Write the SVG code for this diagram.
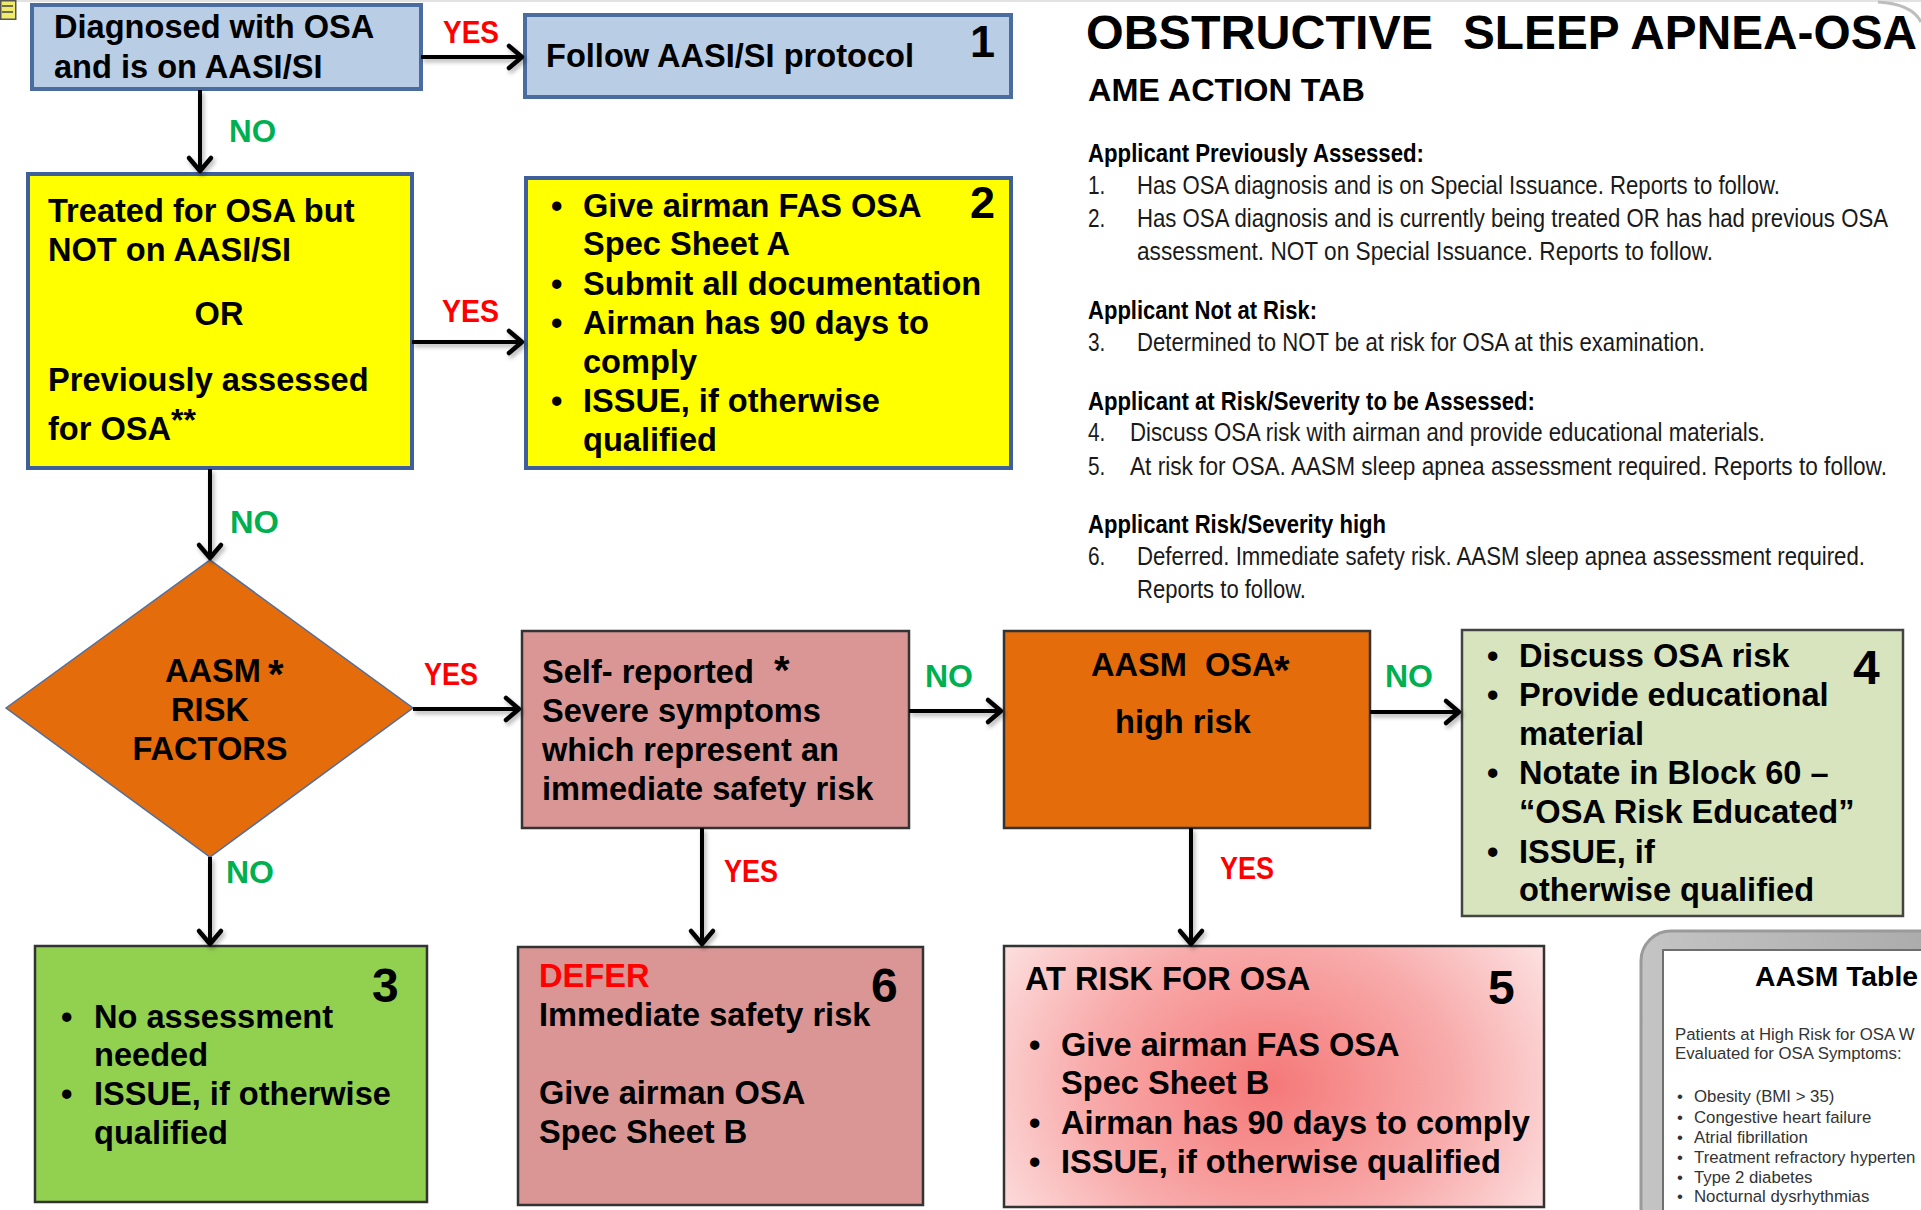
<svg xmlns="http://www.w3.org/2000/svg" width="1921" height="1210" viewBox="0 0 1921 1210">
<style>
.t{font-family:"Liberation Sans",Arial,sans-serif;font-weight:bold;font-size:32.6px;fill:#000}
.num{font-family:"Liberation Sans",Arial,sans-serif;font-weight:bold;font-size:48px;fill:#000}
.yes{font-family:"Liberation Sans Narrow","Liberation Sans",Arial,sans-serif;font-weight:bold;font-size:32px;fill:#ff0000}
.no{font-family:"Liberation Sans Narrow","Liberation Sans",Arial,sans-serif;font-weight:bold;font-size:32px;fill:#00b050}
.rt{font-family:"Liberation Sans",Arial,sans-serif;font-size:26px;fill:#1a1a1a}
.rb{font-weight:bold;fill:#000}
.sm{font-family:"Liberation Sans",Arial,sans-serif;font-size:16.8px;fill:#333}
.conn line{stroke:#000;stroke-width:4;fill:none;marker-end:url(#ah)}
.blue{fill:#b9cde5;stroke:#4a6c9e;stroke-width:4}
.yel{fill:#ffff00;stroke:#3f5f9c;stroke-width:4}
.pink{fill:#d99694;stroke:#333;stroke-width:2.5}
.orng{fill:#e46c0a;stroke:#333;stroke-width:2.5}
</style>
<defs>
<marker id="ah" markerUnits="userSpaceOnUse" markerWidth="22" markerHeight="30" viewBox="0 0 22 30" refX="18" refY="15" orient="auto">
<path d="M5,4 L18,15 L5,26" fill="none" stroke="#000" stroke-width="4.5" stroke-linecap="round" stroke-linejoin="round"/>
</marker>
<filter id="sh" x="-10%" y="-10%" width="130%" height="140%">
<feDropShadow dx="2" dy="3" stdDeviation="2" flood-color="#000" flood-opacity="0.3"/>
</filter>
<radialGradient id="g5" gradientUnits="userSpaceOnUse" cx="1270" cy="1085" r="330" gradientTransform="translate(1270 1085) scale(1 0.8) translate(-1270 -1085)">
<stop offset="0" stop-color="#f57878"/>
<stop offset="0.55" stop-color="#f8aaaa"/>
<stop offset="1" stop-color="#fde4e4"/>
</radialGradient>
<linearGradient id="gf" x1="0" y1="0" x2="1" y2="0">
<stop offset="0" stop-color="#c4c4c4"/>
<stop offset="1" stop-color="#a8a8a8"/>
</linearGradient>
</defs>

<rect width="1921" height="1210" fill="#fff"/>
<line x1="0" y1="1" x2="1921" y2="1" stroke="#e2e2e2" stroke-width="2"/>
<path d="M1878,2 Q1912,4 1921,22" fill="none" stroke="#bdbdbd" stroke-width="3"/>

<g id="note-icon">
<rect x="0.75" y="0.75" width="15" height="18.5" fill="#f0eb6c" stroke="#555" stroke-width="1.5"/>
<line x1="2" y1="6" x2="13" y2="6" stroke="#444" stroke-width="1.5"/>
<line x1="2" y1="12" x2="13" y2="12" stroke="#444" stroke-width="1.5"/>
</g>

<g id="title">
<text class="t" x="1086" y="49" style="font-size:47.5px" textLength="347" lengthAdjust="spacingAndGlyphs">OBSTRUCTIVE</text>
<text class="t" x="1463" y="49" style="font-size:47.5px" textLength="454" lengthAdjust="spacingAndGlyphs">SLEEP APNEA-OSA</text>
<text class="t" x="1088" y="101" style="font-size:32px" textLength="277" lengthAdjust="spacingAndGlyphs">AME ACTION TAB</text>
</g>

<g id="action-tab" transform="translate(1088 0) scale(0.8 1)" xml:space="preserve">
<text class="rt rb" x="0" y="162" textLength="420" lengthAdjust="spacingAndGlyphs">Applicant Previously Assessed:</text>
<text class="rt" x="0" y="194">1.</text>
<text class="rt" x="61.25" y="194" textLength="803.75" lengthAdjust="spacingAndGlyphs">Has OSA diagnosis and is on Special Issuance. Reports to follow.</text>
<text class="rt" x="0" y="227">2.</text>
<text class="rt" x="61.25" y="227" textLength="938.75" lengthAdjust="spacingAndGlyphs">Has OSA diagnosis and is currently being treated OR has had previous OSA</text>
<text class="rt" x="61.25" y="260" textLength="720" lengthAdjust="spacingAndGlyphs">assessment.  NOT on Special Issuance.  Reports to follow.</text>
<text class="rt rb" x="0" y="319" textLength="286.25" lengthAdjust="spacingAndGlyphs">Applicant Not at Risk:</text>
<text class="rt" x="0" y="351">3.</text>
<text class="rt" x="61.25" y="351" textLength="710" lengthAdjust="spacingAndGlyphs">Determined to NOT be at risk for OSA at this examination.</text>
<text class="rt rb" x="0" y="410" textLength="558.75" lengthAdjust="spacingAndGlyphs">Applicant at Risk/Severity to be Assessed:</text>
<text class="rt" x="0" y="441">4.</text>
<text class="rt" x="52.5" y="441" textLength="793.75" lengthAdjust="spacingAndGlyphs">Discuss OSA risk with airman and provide educational materials.</text>
<text class="rt" x="0" y="475">5.</text>
<text class="rt" x="52.5" y="475" textLength="946.25" lengthAdjust="spacingAndGlyphs">At risk for OSA.  AASM sleep apnea assessment required.  Reports to follow.</text>
<text class="rt rb" x="0" y="533" textLength="372.5" lengthAdjust="spacingAndGlyphs">Applicant Risk/Severity high</text>
<text class="rt" x="0" y="565">6.</text>
<text class="rt" x="61.25" y="565" textLength="910" lengthAdjust="spacingAndGlyphs">Deferred. Immediate safety risk. AASM sleep apnea assessment required.</text>
<text class="rt" x="61.25" y="598" textLength="211.25" lengthAdjust="spacingAndGlyphs">Reports to follow.</text>
</g>

<g id="node-diagnosed">
<rect class="blue" x="32" y="5" width="389" height="84"/>
<text class="t" x="54" y="38">Diagnosed with OSA</text>
<text class="t" x="54" y="78">and is on AASI/SI</text>
</g>

<g id="node-1">
<rect class="blue" x="525" y="15" width="486" height="82"/>
<text class="t" x="546" y="67">Follow AASI/SI protocol</text>
<text class="num" x="970" y="57" style="font-size:45px">1</text>
</g>

<g id="node-treated">
<rect class="yel" x="28" y="174" width="384" height="294"/>
<text class="t" x="48" y="222">Treated for OSA but</text>
<text class="t" x="48" y="261">NOT on AASI/SI</text>
<text class="t" x="219" y="325" text-anchor="middle">OR</text>
<text class="t" x="48" y="391">Previously assessed</text>
<text class="t" x="48" y="440">for OSA<tspan dy="-9" style="font-size:32px">**</tspan></text>
</g>

<g id="node-2">
<rect class="yel" x="526" y="178" width="485" height="290"/>
<text class="t" x="551" y="217">•</text>
<text class="t" x="583" y="217">Give airman FAS OSA</text>
<text class="t" x="583" y="255">Spec Sheet A</text>
<text class="t" x="551" y="295">•</text>
<text class="t" x="583" y="295">Submit all documentation</text>
<text class="t" x="551" y="334">•</text>
<text class="t" x="583" y="334">Airman has 90 days to</text>
<text class="t" x="583" y="373">comply</text>
<text class="t" x="551" y="412">•</text>
<text class="t" x="583" y="412">ISSUE, if otherwise</text>
<text class="t" x="583" y="451">qualified</text>
<text class="num" x="970" y="218" style="font-size:45px">2</text>
</g>

<g id="node-risk-factors">
<polygon points="6,708 210,560 413,708 210,857" fill="#e46c0a" stroke="#4f6fa0" stroke-width="1.5"/>
<text class="t" x="165" y="682">AASM<tspan x="268" y="688" style="font-size:40px">*</tspan></text>
<text class="t" x="210" y="721" text-anchor="middle">RISK</text>
<text class="t" x="210" y="760" text-anchor="middle">FACTORS</text>
</g>

<g id="node-self-reported">
<rect class="pink" x="522" y="631" width="387" height="197"/>
<text class="t" x="542" y="683">Self- reported<tspan x="774" y="684" style="font-size:40px">*</tspan></text>
<text class="t" x="542" y="722">Severe symptoms</text>
<text class="t" x="542" y="761">which represent an</text>
<text class="t" x="542" y="800">immediate safety risk</text>
</g>

<g id="node-aasm-osa">
<rect class="orng" x="1004" y="631" width="366" height="197"/>
<text class="t" x="1091" y="676" xml:space="preserve">AASM  OSA<tspan x="1274" y="684" style="font-size:40px">*</tspan></text>
<text class="t" x="1115" y="733">high risk</text>
</g>

<g id="node-4">
<rect x="1462" y="630" width="441" height="286" fill="#d7e4bd" stroke="#444" stroke-width="2.5"/>
<text class="t" x="1487" y="667">•</text>
<text class="t" x="1519" y="667">Discuss OSA risk</text>
<text class="t" x="1487" y="706">•</text>
<text class="t" x="1519" y="706">Provide educational</text>
<text class="t" x="1519" y="745">material</text>
<text class="t" x="1487" y="784">•</text>
<text class="t" x="1519" y="784">Notate in Block 60 –</text>
<text class="t" x="1519" y="823">“OSA Risk Educated”</text>
<text class="t" x="1487" y="863">•</text>
<text class="t" x="1519" y="863">ISSUE, if</text>
<text class="t" x="1519" y="901">otherwise qualified</text>
<text class="num" x="1853" y="684">4</text>
</g>

<g id="node-3">
<rect x="35" y="946" width="392" height="256" fill="#92d050" stroke="#333" stroke-width="2.5"/>
<text class="num" x="372" y="1002">3</text>
<text class="t" x="61" y="1028">•</text>
<text class="t" x="94" y="1028">No assessment</text>
<text class="t" x="94" y="1066">needed</text>
<text class="t" x="61" y="1105">•</text>
<text class="t" x="94" y="1105">ISSUE, if otherwise</text>
<text class="t" x="94" y="1144">qualified</text>
</g>

<g id="node-6">
<rect class="pink" x="518" y="947" width="405" height="258"/>
<text class="t" x="539" y="987" style="fill:#ff0000">DEFER</text>
<text class="num" x="871" y="1002">6</text>
<text class="t" x="539" y="1026">Immediate safety risk</text>
<text class="t" x="539" y="1104">Give airman OSA</text>
<text class="t" x="539" y="1143">Spec Sheet B</text>
</g>

<g id="node-5">
<rect x="1004" y="946" width="540" height="261" fill="url(#g5)" stroke="#333" stroke-width="2.5"/>
<text class="t" x="1025" y="990">AT RISK FOR OSA</text>
<text class="num" x="1488" y="1004">5</text>
<text class="t" x="1029" y="1056">•</text>
<text class="t" x="1061" y="1056">Give airman FAS OSA</text>
<text class="t" x="1061" y="1094">Spec Sheet B</text>
<text class="t" x="1029" y="1134">•</text>
<text class="t" x="1061" y="1134">Airman has 90 days to comply</text>
<text class="t" x="1029" y="1173">•</text>
<text class="t" x="1061" y="1173">ISSUE, if otherwise qualified</text>
</g>

<g id="aasm-table">
<rect x="1641" y="931" width="330" height="330" rx="30" fill="url(#gf)" stroke="#9a9a9a" stroke-width="3"/>
<rect x="1663" y="950" width="310" height="310" fill="#fff" stroke="#6e6e6e" stroke-width="2"/>
<text class="t" x="1755" y="986" style="font-size:28.5px" textLength="163" lengthAdjust="spacingAndGlyphs">AASM Table</text>
<text class="sm" x="1675" y="1040">Patients at High Risk for OSA W</text>
<text class="sm" x="1675" y="1059">Evaluated for OSA Symptoms:</text>
<text class="sm" x="1677" y="1102">•</text><text class="sm" x="1694" y="1102">Obesity (BMI &gt; 35)</text>
<text class="sm" x="1677" y="1123">•</text><text class="sm" x="1694" y="1123">Congestive heart failure</text>
<text class="sm" x="1677" y="1143">•</text><text class="sm" x="1694" y="1143">Atrial fibrillation</text>
<text class="sm" x="1677" y="1163">•</text><text class="sm" x="1694" y="1163">Treatment refractory hyperten</text>
<text class="sm" x="1677" y="1183">•</text><text class="sm" x="1694" y="1183">Type 2 diabetes</text>
<text class="sm" x="1677" y="1202">•</text><text class="sm" x="1694" y="1202">Nocturnal dysrhythmias</text>
</g>

<g id="connectors">
<g class="conn" filter="url(#sh)">
<line x1="421" y1="57" x2="522" y2="57"/>
<line x1="200" y1="90" x2="200" y2="171"/>
<line x1="412" y1="342" x2="522" y2="342"/>
<line x1="210" y1="469" x2="210" y2="558"/>
<line x1="413" y1="709" x2="519" y2="709"/>
<line x1="909" y1="711" x2="1001" y2="711"/>
<line x1="1370" y1="712" x2="1459" y2="712"/>
<line x1="210" y1="857" x2="210" y2="944"/>
<line x1="702" y1="828" x2="702" y2="944"/>
<line x1="1191" y1="828" x2="1191" y2="944"/>
</g>
<text class="yes" x="443" y="43" textLength="56" lengthAdjust="spacingAndGlyphs">YES</text>
<text class="no" x="229" y="142" textLength="47" lengthAdjust="spacingAndGlyphs">NO</text>
<text class="yes" x="442" y="322" textLength="57" lengthAdjust="spacingAndGlyphs">YES</text>
<text class="no" x="230" y="533" textLength="49" lengthAdjust="spacingAndGlyphs">NO</text>
<text class="yes" x="424" y="685" textLength="54" lengthAdjust="spacingAndGlyphs">YES</text>
<text class="no" x="925" y="687" textLength="48" lengthAdjust="spacingAndGlyphs">NO</text>
<text class="no" x="1385" y="687" textLength="48" lengthAdjust="spacingAndGlyphs">NO</text>
<text class="no" x="226" y="883" textLength="48" lengthAdjust="spacingAndGlyphs">NO</text>
<text class="yes" x="724" y="882" textLength="54" lengthAdjust="spacingAndGlyphs">YES</text>
<text class="yes" x="1220" y="879" textLength="54" lengthAdjust="spacingAndGlyphs">YES</text>
</g>
</svg>
